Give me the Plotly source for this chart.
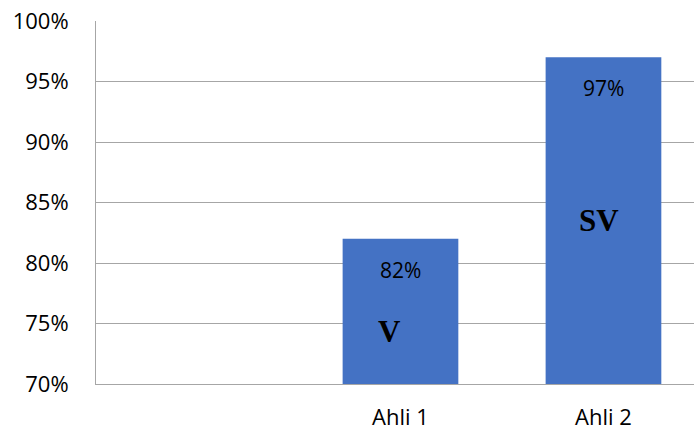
import plotly.graph_objects as go

# Chart data
categories = ["", "Ahli 1", "Ahli 2"]
values = [None, 0.82, 0.97]
value_labels = ["", "82%", "97%"]
grade_labels = ["", "V", "SV"]
grade_levels = [None, 0.743, 0.8355]
y_ticks = [0.70, 0.75, 0.80, 0.85, 0.90, 0.95, 1.00]
y_tick_text = ["70%", "75%", "80%", "85%", "90%", "95%", "100%"]

BAR_COLOR = "#4472C4"
GRID_COLOR = "#A6A6A6"
FONT = "Open Sans, Liberation Sans, sans-serif"

fig = go.Figure(
    go.Bar(
        x=[0, 1, 2],
        y=values,
        base=0,
        marker=dict(color=BAR_COLOR, line=dict(width=0)),
        width=0.57,
        hoverinfo="skip",
    )
)

# Percentage labels near the top of each bar
for i, (v, t) in enumerate(zip(values, value_labels)):
    if v is None:
        continue
    fig.add_annotation(
        x=i, y=v, text=t, showarrow=False, yshift=-31,
        font=dict(family=FONT, size=21, color="#000000"),
    )

# Grade labels inside the bars
for i, (lv, g) in enumerate(zip(grade_levels, grade_labels)):
    if lv is None:
        continue
    fig.add_annotation(
        x=i, y=lv, text=f"<b>{g}</b>", showarrow=False, xshift=-11 if g == "V" else -4,
        font=dict(family="Liberation Serif, Times New Roman, serif", size=31, color="#000000"),
    )

fig.update_layout(
    width=694,
    height=430,
    margin=dict(l=96, r=0, t=21, b=46, autoexpand=False),
    paper_bgcolor="white",
    plot_bgcolor="white",
    showlegend=False,
    xaxis=dict(
        range=[-0.5, 2.446],
        tickmode="array",
        tickvals=[0, 1, 2],
        ticktext=categories,
        showgrid=False,
        zeroline=False,
        showline=True,
        linecolor=GRID_COLOR,
        linewidth=1,
        ticks="",
        automargin=False,
        tickfont=dict(family=FONT, size=22, color="#000000"),
        ticklabelstandoff=14,
    ),
    yaxis=dict(
        range=[0.70, 1.00],
        tickvals=y_ticks,
        ticktext=y_tick_text,
        showgrid=True,
        gridcolor=GRID_COLOR,
        gridwidth=1,
        zeroline=False,
        showline=True,
        linecolor=GRID_COLOR,
        linewidth=1,
        ticks="",
        automargin=False,
        tickfont=dict(family=FONT, size=22, color="#000000"),
        ticklabelstandoff=22,
    ),
)

fig.write_html("out.html")
